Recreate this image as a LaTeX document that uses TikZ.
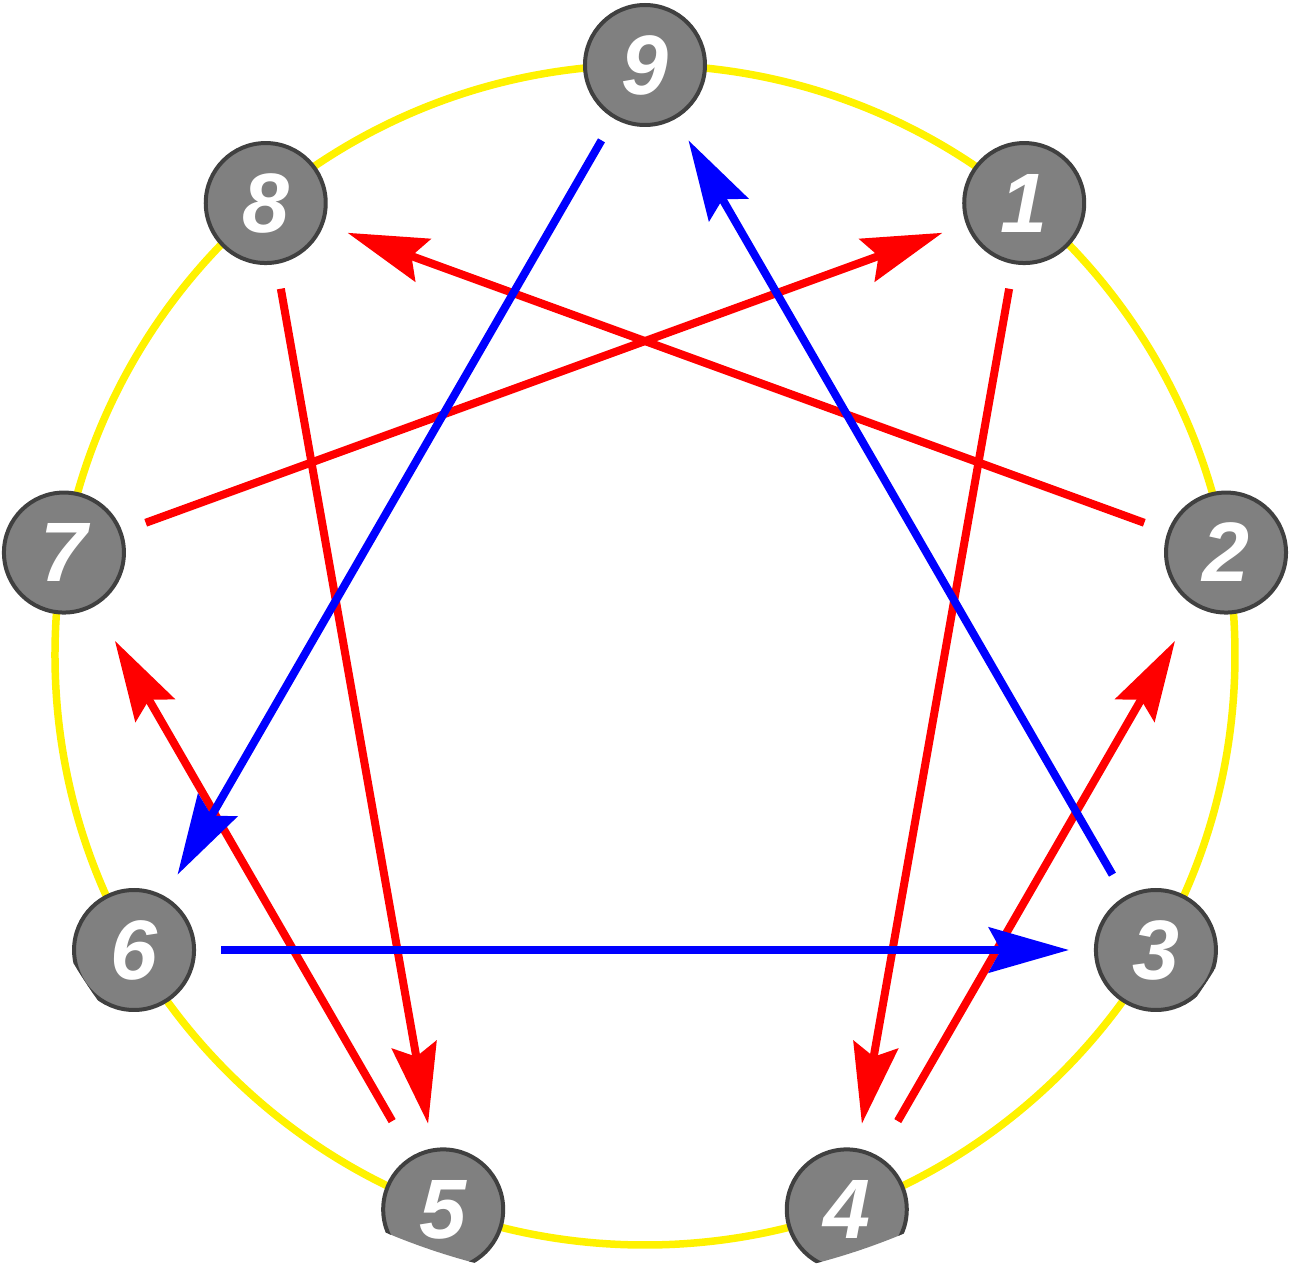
\documentclass[tikz,border=0pt]{standalone}
\usepackage{fontspec}
\setsansfont{Liberation Sans}
\usetikzlibrary{arrows.meta}
\tikzset{
    vertex/.style={circle,draw=black!75,line width=0.04cm,fill=black!50,minimum size=1.2cm,inner sep=0pt,
        text=white,font=\sffamily\bfseries\itshape\fontsize{24}{24}\selectfont},
    ring/.style={draw=yellow,line width=0.075cm},
    msgred/.style={->,>={Stealth[length=0.8cm,width=0.45cm,inset=0.12cm]},draw=red,line width=0.08cm,
        shorten <=0.25cm,shorten >=0.25cm},
    msgblue/.style={->,>={Stealth[length=0.8cm,width=0.45cm,inset=0.12cm]},draw=blue,line width=0.08cm,
        shorten <=0.25cm,shorten >=0.25cm},
    far/.style={shorten <=0.4cm,shorten >=0.4cm},
}
\begin{document}
\begin{tikzpicture}
\useasboundingbox (-6.45,-6.29) rectangle (6.47,6.55);
\clip (0.01,0.40) circle (6.7);
\draw[ring] (0,0) circle (5.9);
\node[vertex] (9) at (90:5.9) {9};
\node[vertex] (1) at (50:5.9) {1}; \node[vertex] (2) at (10:5.9) {2};
\node[vertex] (3) at (-30:5.9) {3};
\node[vertex] (4) at (-70:5.9) {4}; \node[vertex] (5) at (-110:5.9) {5};
\node[vertex] (6) at (-150:5.9) {6};
\node[vertex] (7) at (170:5.9) {7}; \node[vertex] (8) at (130:5.9) {8};
% red cycle
\draw[msgred] (1) -- (4);
\draw[msgred,far] (4) -- (2);
\draw[msgred] (2) -- (8);
\draw[msgred] (8) -- (5);
\draw[msgred,far] (5) -- (7);
\draw[msgred] (7) -- (1);
% blue triangle
\draw[msgblue] (9) -- (6);
\draw[msgblue] (6) -- (3);
\draw[msgblue] (3) -- (9);
\end{tikzpicture}
\end{document}
